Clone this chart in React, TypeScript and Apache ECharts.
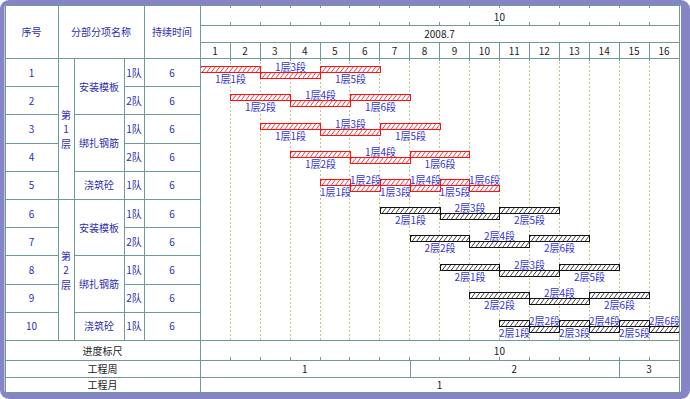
import React, { useEffect, useRef } from 'react';
import * as echarts from 'echarts';

// ---------- data ----------
const headerLabels = ['序号', '分部分项名称', '持续时间'];
const footerLabels = ['进度标尺', '工程周', '工程月'];
const serials = ['1', '2', '3', '4', '5', '6', '7', '8', '9', '10'];
const floorNames = [['第', '1', '层'], ['第', '2', '层']];
const floorSpans = [5, 5];
const workNames = ['安装模板', '绑扎钢筋', '浇筑砼', '安装模板', '绑扎钢筋', '浇筑砼'];
const workSpans = [2, 2, 1, 2, 2, 1];
const teams = ['1队', '2队', '1队', '2队', '1队', '1队', '2队', '1队', '2队', '1队'];
const durations = [6, 6, 6, 6, 6, 6, 6, 6, 6, 6];
const monthTitle = '2008.7';
const dayLabels = ['1', '2', '3', '4', '5', '6', '7', '8', '9', '10', '11', '12', '13', '14', '15', '16'];
const rulerMarks = [10];
const weekLabels = ['1', '2', '3'];
const weekBounds = [0, 7, 14, 16];
const monthLabels = ['1'];
const monthBounds = [0, 16];

// [row, startDay, endDay, name]
const floor1Segments: [number, number, number, string][] = [
  [0, 0, 2, '1层1段'], [0, 2, 4, '1层3段'], [0, 4, 6, '1层5段'],
  [1, 1, 3, '1层2段'], [1, 3, 5, '1层4段'], [1, 5, 7, '1层6段'],
  [2, 2, 4, '1层1段'], [2, 4, 6, '1层3段'], [2, 6, 8, '1层5段'],
  [3, 3, 5, '1层2段'], [3, 5, 7, '1层4段'], [3, 7, 9, '1层6段'],
  [4, 4, 5, '1层1段'], [4, 5, 6, '1层2段'], [4, 6, 7, '1层3段'],
  [4, 7, 8, '1层4段'], [4, 8, 9, '1层5段'], [4, 9, 10, '1层6段'],
];
const floor2Segments: [number, number, number, string][] = [
  [5, 6, 8, '2层1段'], [5, 8, 10, '2层3段'], [5, 10, 12, '2层5段'],
  [6, 7, 9, '2层2段'], [6, 9, 11, '2层4段'], [6, 11, 13, '2层6段'],
  [7, 8, 10, '2层1段'], [7, 10, 12, '2层3段'], [7, 12, 14, '2层5段'],
  [8, 9, 11, '2层2段'], [8, 11, 13, '2层4段'], [8, 13, 15, '2层6段'],
  [9, 10, 11, '2层1段'], [9, 11, 12, '2层2段'], [9, 12, 13, '2层3段'],
  [9, 13, 14, '2层4段'], [9, 14, 15, '2层5段'], [9, 15, 16, '2层6段'],
];

// ---------- style / layout ----------
const PURPLE = '#8585c6';
const LINE = '#6f9a9a';
const DOT = '#c9c38a';
const BLUE = '#2e2eb4';
const LABEL = '#3434dc';
const DARK = '#222222';
const FONT = '"Noto Sans CJK SC", "Noto Sans", sans-serif';
const F10 = `10px ${FONT}`;

const colX = [5, 58, 74, 124, 144, 200];
const RIGHT = 679;
const TOP = 5;
const HEAD = [5, 25, 42, 58];
const DATA_BOTTOM = 340;
const FOOT = [340, 360, 377, 392];
const NROWS = serials.length;
const rowH = (DATA_BOTTOM - HEAD[3]) / NROWS;
const rowTop = (i: number) => HEAD[3] + i * rowH;

const p = (v: number) => Math.round(v) + 0.5;
const hline = (x1: number, x2: number, y: number) => ({
  type: 'line', silent: true, z: 10,
  shape: { x1: p(x1), y1: p(y), x2: p(x2), y2: p(y) },
  style: { stroke: LINE, lineWidth: 1 },
});
const vline = (x: number, y1: number, y2: number) => ({
  type: 'line', silent: true, z: 10,
  shape: { x1: p(x), y1: p(y1), x2: p(x), y2: p(y2) },
  style: { stroke: LINE, lineWidth: 1 },
});
const text = (t: string, x: number, y: number, fill: string, extra: any = {}) => ({
  type: 'text', silent: true, z: 11, x, y,
  style: { text: t, fill, font: F10, align: 'center', verticalAlign: 'middle', ...extra },
});

function buildGraphic() {
  const g: any[] = [];
  g.push({ type: 'rect', z: -10, silent: true, shape: { x: 0, y: 0, width: 690, height: 399, r: 9 }, style: { fill: PURPLE } });
  g.push({ type: 'rect', z: -9, silent: true, shape: { x: 4.5, y: 5, width: 676.5, height: 387.5, r: 2 }, style: { fill: '#ffffff' } });

  // horizontal lines
  g.push(hline(colX[0], RIGHT, HEAD[0]));
  g.push(hline(colX[5], RIGHT, HEAD[1]));
  g.push(hline(colX[5], RIGHT, HEAD[2]));
  g.push(hline(colX[0], RIGHT, HEAD[3]));
  FOOT.forEach((y) => g.push(hline(colX[0], RIGHT, y)));
  const floorEnds: number[] = [];
  let acc = 0;
  floorSpans.forEach((s) => { acc += s; floorEnds.push(acc); });
  const workEnds: number[] = [];
  acc = 0;
  workSpans.forEach((s) => { acc += s; workEnds.push(acc); });
  for (let i = 1; i < NROWS; i++) {
    const y = rowTop(i);
    g.push(hline(colX[0], colX[1], y));
    if (floorEnds.includes(i)) g.push(hline(colX[1], colX[2], y));
    if (workEnds.includes(i)) g.push(hline(colX[2], colX[3], y));
    g.push(hline(colX[3], colX[5], y));
  }
  // vertical lines
  g.push(vline(colX[0], TOP, FOOT[3]));
  g.push(vline(colX[1], TOP, DATA_BOTTOM));
  g.push(vline(colX[2], HEAD[3], DATA_BOTTOM));
  g.push(vline(colX[3], HEAD[3], DATA_BOTTOM));
  g.push(vline(colX[4], TOP, DATA_BOTTOM));
  g.push(vline(colX[5], TOP, FOOT[3]));
  g.push(vline(RIGHT, TOP, FOOT[3]));

  // header texts
  const hy = (HEAD[0] + HEAD[3]) / 2;
  g.push(text(headerLabels[0], (colX[0] + colX[1]) / 2, hy, BLUE));
  g.push(text(headerLabels[1], (colX[1] + colX[4]) / 2, hy, BLUE));
  g.push(text(headerLabels[2], (colX[4] + colX[5]) / 2, hy, BLUE));
  g.push(text(monthTitle, (colX[5] + RIGHT) / 2, (HEAD[1] + HEAD[2]) / 2, DARK));

  // rows
  for (let i = 0; i < NROWS; i++) {
    const cy = rowTop(i) + rowH / 2;
    g.push(text(serials[i], (colX[0] + colX[1]) / 2, cy, BLUE));
    g.push(text(teams[i], (colX[3] + colX[4]) / 2, cy, BLUE));
    g.push(text(String(durations[i]), (colX[4] + colX[5]) / 2, cy, BLUE));
  }
  let start = 0;
  floorSpans.forEach((s, k) => {
    const cy = (rowTop(start) + rowTop(start + s)) / 2;
    const chars = floorNames[k];
    chars.forEach((ch, j) => {
      g.push(text(ch, (colX[1] + colX[2]) / 2, cy + (j - (chars.length - 1) / 2) * 14.5, BLUE, { lineHeight: 10 }));
    });
    start += s;
  });
  start = 0;
  workSpans.forEach((s, k) => {
    const cy = (rowTop(start) + rowTop(start + s)) / 2;
    g.push(text(workNames[k], (colX[2] + colX[3]) / 2, cy, BLUE));
    start += s;
  });
  footerLabels.forEach((t, k) => {
    g.push(text(t, (colX[0] + colX[5]) / 2, (FOOT[k] + FOOT[k + 1]) / 2, DARK));
  });
  return g;
}

// ---------- series data ----------
const segData: number[][] = [];
const segNames: string[] = [];
[floor1Segments, floor2Segments].forEach((list, f) => {
  const counts: Record<number, number> = {};
  list.forEach(([row, s, e, name]) => {
    const idx = counts[row] || 0;
    counts[row] = idx + 1;
    segData.push([row, s, e, idx % 2, f]);
    segNames.push(name);
  });
});

const weekData = weekLabels.map((_, k) => [weekBounds[k], weekBounds[k + 1], NROWS, k]);
const monthData = monthLabels.map((_, k) => [monthBounds[k], monthBounds[k + 1], NROWS, k]);

function renderSegment(params: any, api: any) {
  const row = api.value(0);
  const s = api.value(1);
  const e = api.value(2);
  const pos = api.value(3);
  const f = api.value(4);
  const a = api.coord([s, row]);
  const b = api.coord([e, row + 1]);
  const x0 = Math.round(a[0]) + 0.5;
  const x1 = Math.round(b[0]) + 0.5;
  const mid = Math.round((a[1] + b[1]) / 2);
  const bh = 6;
  const y0 = (pos === 0 ? mid - bh : mid) + 0.5;
  const stroke = f === 0 ? '#ff1010' : '#111111';
  const hatch = f === 0 ? '#ff4040' : '#444444';
  const children: any[] = [];
  children.push({ type: 'rect', shape: { x: x0, y: y0, width: x1 - x0, height: bh }, style: { fill: '#ffffff', stroke, lineWidth: 1 } });
  const slant = 4.5;
  const step = 4.5;
  for (let k = x0 - slant + 1.5; k < x1; k += step) {
    const t0 = Math.max(0, (x0 - k) / slant);
    const t1 = Math.min(1, (x1 - k) / slant);
    if (t1 <= t0) continue;
    children.push({
      type: 'line',
      shape: { x1: k + slant * t0, y1: y0 + bh - bh * t0, x2: k + slant * t1, y2: y0 + bh - bh * t1 },
      style: { stroke: hatch, lineWidth: 1 },
    });
  }
  children.push({ type: 'rect', shape: { x: x0, y: y0, width: x1 - x0, height: bh }, style: { fill: 'none', stroke, lineWidth: 1 } });
  const ty = pos === 0 ? mid + 6.5 : mid - 6;
  children.push({
    type: 'text', z2: 20, x: (x0 + x1) / 2, y: ty,
    style: { text: segNames[params.dataIndex], fill: LABEL, font: F10, align: 'center', verticalAlign: 'middle' },
  });
  return { type: 'group', children };
}

function makeSpanRenderer(labels: string[], rowIndex: number, total: number) {
  return (params: any, api: any) => {
    const a = api.coord([api.value(0), api.value(2)]);
    const b = api.coord([api.value(1), api.value(2)]);
    const k = api.value(3);
    const yTop = FOOT[rowIndex];
    const yBot = FOOT[rowIndex + 1];
    const children: any[] = [
      {
        type: 'text', x: (a[0] + b[0]) / 2, y: (yTop + yBot) / 2,
        style: { text: labels[k], fill: DARK, font: F10, align: 'center', verticalAlign: 'middle' },
      },
    ];
    if (k < total - 1) {
      children.push({
        type: 'line',
        shape: { x1: p(b[0]), y1: p(yTop), x2: p(b[0]), y2: p(yBot) },
        style: { stroke: LINE, lineWidth: 1 },
      });
    }
    return { type: 'group', children };
  };
}

const valueAxisBase = { type: 'value', gridIndex: 0, min: 0, max: 16, interval: 1, splitLine: { show: false }, axisLine: { show: false } };

const option: any = {
  animation: false,
  graphic: buildGraphic(),
  grid: { left: colX[5], top: HEAD[3], width: RIGHT - colX[5], height: DATA_BOTTOM - HEAD[3], containLabel: false, outerBoundsMode: 'none', show: false },
  xAxis: [
    {
      ...valueAxisBase, position: 'bottom',
      axisTick: { show: true, length: 3, lineStyle: { color: LINE } },
      axisLabel: { show: true, margin: 5, fontSize: 10, fontFamily: FONT, color: DARK, formatter: (v: number) => (rulerMarks.includes(v) ? String(v) : '') },
      splitLine: { show: true, lineStyle: { color: DOT, type: [2, 2], width: 1 } },
    },
    {
      type: 'category', gridIndex: 0, data: dayLabels, position: 'top', boundaryGap: true,
      axisLine: { show: false },
      axisTick: { show: true, length: 16, interval: 0, lineStyle: { color: LINE } },
      axisLabel: { interval: 0, margin: 3, fontSize: 10, fontFamily: FONT, color: DARK },
      splitLine: { show: false },
    },
    {
      ...valueAxisBase, position: 'top', offset: HEAD[3] - HEAD[1],
      axisTick: { show: true, length: 3, lineStyle: { color: LINE } },
      axisLabel: { show: true, margin: 4, fontSize: 10, fontFamily: FONT, color: DARK, formatter: (v: number) => (rulerMarks.includes(v) ? String(v) : '') },
    },
    {
      ...valueAxisBase, position: 'top', offset: HEAD[3] - HEAD[0],
      axisTick: { show: true, inside: true, length: 3, lineStyle: { color: LINE } },
      axisLabel: { show: false },
    },
    {
      ...valueAxisBase, position: 'bottom', offset: FOOT[1] - FOOT[0],
      axisTick: { show: true, inside: true, length: 3, lineStyle: { color: LINE } },
      axisLabel: { show: false },
    },
  ],
  yAxis: { type: 'value', gridIndex: 0, min: 0, max: NROWS, inverse: true, show: false },
  series: [
    {
      type: 'custom', xAxisIndex: 0, yAxisIndex: 0, clip: false,
      encode: { x: [1, 2], y: 0 },
      data: segData,
      renderItem: renderSegment,
      z: 5,
    },
    {
      type: 'custom', xAxisIndex: 0, yAxisIndex: 0, clip: false,
      encode: { x: [0, 1], y: 2 },
      data: weekData,
      renderItem: makeSpanRenderer(weekLabels, 1, weekLabels.length),
      z: 5,
    },
    {
      type: 'custom', xAxisIndex: 0, yAxisIndex: 0, clip: false,
      encode: { x: [0, 1], y: 2 },
      data: monthData,
      renderItem: makeSpanRenderer(monthLabels, 2, monthLabels.length),
      z: 5,
    },
  ],
};

export default function App() {
  const ref = useRef<HTMLDivElement>(null);
  useEffect(() => {
    const chart = echarts.init(ref.current as HTMLDivElement, null, { renderer: 'svg' });
    chart.setOption(option);
    return () => chart.dispose();
  }, []);
  return <div ref={ref} style={{ position: 'absolute', left: 0, top: 0, width: 690, height: 399 }} />;
}
